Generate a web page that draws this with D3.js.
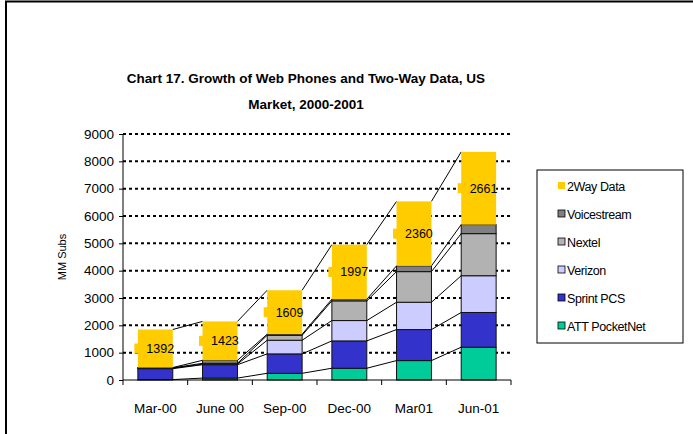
<!DOCTYPE html>
<html>
<head>
<meta charset="utf-8">
<script src="https://cdn.jsdelivr.net/npm/d3@7"></script>
<style>
  body { margin: 0; background: #fff; }
  svg { display: block; font-family: "Liberation Sans", Arial, sans-serif; }
</style>
</head>
<body>
<div id="chart"></div>
<script>
// data
var periods = ["Mar-00", "June 00", "Sep-00", "Dec-00", "Mar01", "Jun-01"];
var attPocketNet = [15, 70, 245, 430, 710, 1200];
var sprintPcs = [400, 490, 710, 1000, 1135, 1270];
var verizon = [20, 20, 500, 745, 1000, 1345];
var nextel = [10, 30, 180, 720, 1120, 1540];
var voicestream = [10, 110, 40, 60, 210, 330];
var twoWayData = [1392, 1423, 1609, 1997, 2360, 2661];
var yTicks = [0, 1000, 2000, 3000, 4000, 5000, 6000, 7000, 8000, 9000];

var seriesNames = ["ATT PocketNet", "Sprint PCS", "Verizon", "Nextel", "Voicestream", "2Way Data"];
var seriesValues = [attPocketNet, sprintPcs, verizon, nextel, voicestream, twoWayData];
var seriesColors = ["#00CC99", "#3333CC", "#CCCCFF", "#B2B2B2", "#808080", "#FFCC00"];

const W = 693, H = 434;
const plot = { left: 123, right: 511, top: 134, bottom: 380 };

const svg = d3.select("#chart").append("svg")
    .attr("width", W)
    .attr("height", H);

// chart frame (cropped at right and bottom)
svg.append("path")
    .attr("d", "M6," + (H + 5) + "V1.5H" + (W + 5))
    .attr("fill", "none")
    .attr("stroke", "#000")
    .attr("stroke-width", 2);

// title
var title = svg.append("text")
    .attr("text-anchor", "middle")
    .attr("font-weight", "bold")
    .attr("font-size", 13.5)
    .attr("fill", "#000");
title.append("tspan").attr("x", 306).attr("y", 83).text("Chart 17. Growth of Web Phones and Two-Way Data, US");
title.append("tspan").attr("x", 306).attr("y", 109).text("Market, 2000-2001");

// stack the rows
var rows = periods.map((p, i) => {
    var r = { period: p };
    seriesNames.forEach((s, k) => r[s] = seriesValues[k][i]);
    return r;
});
var stacked = d3.stack().keys(seriesNames)(rows);

var x = d3.scaleBand()
    .domain(periods)
    .range([plot.left, plot.right])
    .paddingInner(0.46)
    .paddingOuter(0.23);

var y = d3.scaleLinear()
    .domain([0, 9000])
    .range([plot.bottom, plot.top]);

// dashed gridlines
svg.append("g")
    .selectAll("line")
    .data(yTicks.filter(d => d > 0))
    .join("line")
    .attr("x1", plot.left)
    .attr("x2", plot.right)
    .attr("y1", d => y(d))
    .attr("y2", d => y(d))
    .attr("stroke", "#000")
    .attr("stroke-width", 2)
    .attr("stroke-dasharray", "3,3");

// series lines between bars
var lineG = svg.append("g");
stacked.forEach(layer => {
    for (var i = 0; i < periods.length - 1; i++) {
        lineG.append("line")
            .attr("x1", x(periods[i]) + x.bandwidth())
            .attr("x2", x(periods[i + 1]))
            .attr("y1", y(layer[i][1]))
            .attr("y2", y(layer[i + 1][1]))
            .attr("stroke", "#000")
            .attr("stroke-width", 1);
    }
});

// bars
svg.append("g")
    .selectAll("g")
    .data(stacked)
    .join("g")
    .attr("fill", (d, k) => seriesColors[k])
    .each(function (layer, k) {
        d3.select(this).selectAll("rect")
            .data(layer)
            .join("rect")
            .attr("x", d => x(d.data.period))
            .attr("width", x.bandwidth())
            .attr("y", d => y(d[1]))
            .attr("height", d => y(d[0]) - y(d[1]))
            .attr("stroke", k == 5 ? "none" : "#111")
            .attr("stroke-width", 1);
    });

// data labels for 2Way Data, with legend key
var dataLayer = stacked[5];
var labelG = svg.append("g")
    .selectAll("g")
    .data(dataLayer)
    .join("g")
    .attr("transform", d => "translate(" + (x(d.data.period) + x.bandwidth() / 2) + "," + y((d[0] + d[1]) / 2) + ")");
labelG.append("rect")
    .attr("x", -21)
    .attr("y", -5)
    .attr("width", 7)
    .attr("height", 10)
    .attr("fill", seriesColors[5]);
labelG.append("text")
    .attr("x", -9)
    .attr("y", 4.5)
    .attr("font-size", 12.5)
    .attr("fill", "#000")
    .text(d => d.data["2Way Data"]);

// y axis
var yAxis = svg.append("g")
    .attr("transform", "translate(" + plot.left + ",0)")
    .call(d3.axisLeft(y).tickValues(yTicks).tickSize(4).tickPadding(5).tickFormat(d3.format("d")));
yAxis.select(".domain").attr("stroke", "#000").attr("d", "M0," + plot.top + "V" + plot.bottom);
yAxis.selectAll("text").attr("font-size", 13.5).attr("fill", "#000").attr("font-family", "Liberation Sans, Arial, sans-serif");
yAxis.selectAll("line").attr("stroke", "#000");

// x axis with ticks between categories
var xAxisG = svg.append("g");
xAxisG.append("line")
    .attr("x1", plot.left).attr("x2", plot.right)
    .attr("y1", plot.bottom).attr("y2", plot.bottom)
    .attr("stroke", "#000");
var step = x.step();
xAxisG.selectAll("line.tick")
    .data(d3.range(periods.length + 1))
    .join("line")
    .attr("class", "tick")
    .attr("x1", i => plot.left + i * step)
    .attr("x2", i => plot.left + i * step)
    .attr("y1", plot.bottom)
    .attr("y2", plot.bottom + 5)
    .attr("stroke", "#000");
xAxisG.selectAll("text")
    .data(periods)
    .join("text")
    .attr("x", d => x(d) + x.bandwidth() / 2)
    .attr("y", 413)
    .attr("text-anchor", "middle")
    .attr("font-size", 13.5)
    .attr("fill", "#000")
    .text(d => d);

// y axis title
svg.append("text")
    .attr("transform", "translate(66," + (plot.top + plot.bottom) / 2 + ") rotate(-90)")
    .attr("text-anchor", "middle")
    .attr("font-size", 11)
    .attr("fill", "#000")
    .text("MM Subs");

// legend
var legend = svg.append("g").attr("transform", "translate(537,170)");
legend.append("rect")
    .attr("width", 146)
    .attr("height", 173)
    .attr("fill", "#fff")
    .attr("stroke", "#000");
var legendItems = legend.selectAll("g")
    .data(seriesNames.slice().reverse())
    .join("g")
    .attr("transform", (d, i) => "translate(0," + (16 + i * 28) + ")");
legendItems.append("rect")
    .attr("x", 21)
    .attr("y", -4)
    .attr("width", 7)
    .attr("height", 7)
    .attr("fill", d => seriesColors[seriesNames.indexOf(d)])
    .attr("stroke", d => d == "2Way Data" ? "none" : "#000")
    .attr("stroke-width", 0.8);
legendItems.append("text")
    .attr("x", 30)
    .attr("y", 4.5)
    .attr("font-size", 12.5)
    .attr("fill", "#000")
    .attr("letter-spacing", -0.4)
    .text(d => d);
</script>
</body>
</html>
